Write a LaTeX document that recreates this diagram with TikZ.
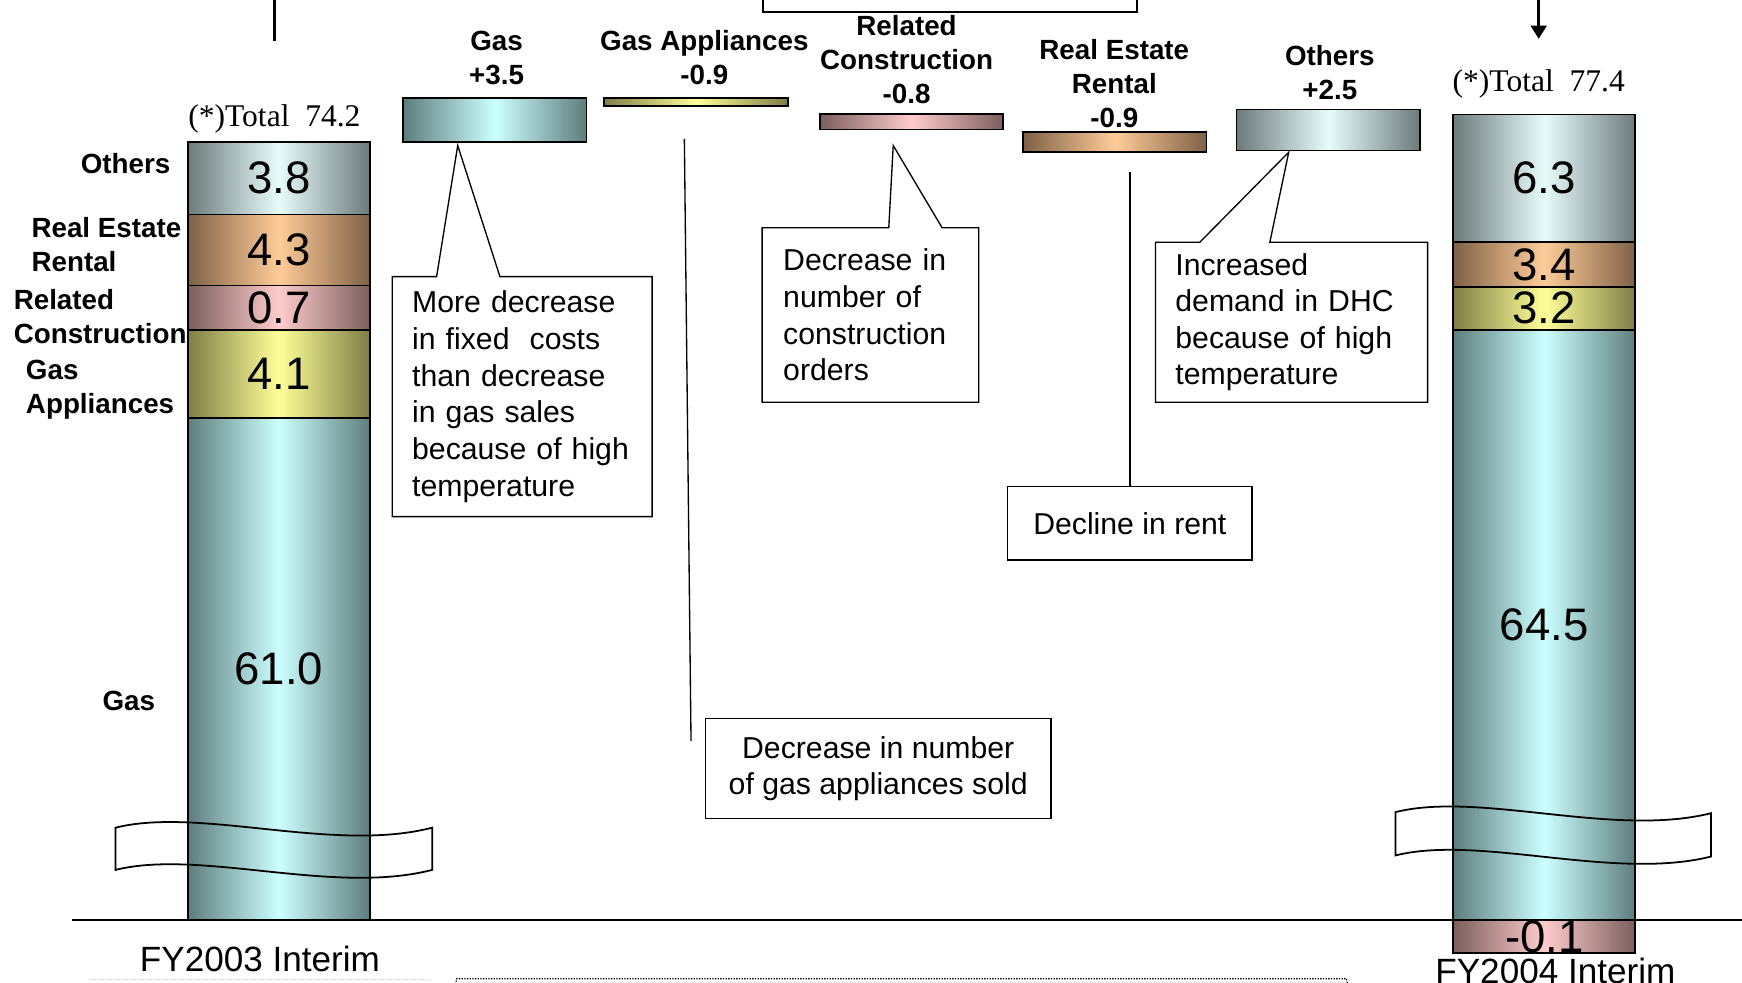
\documentclass[tikz,border=0pt]{standalone}
\usepackage{fontspec}
\setmainfont{Liberation Serif}
\setsansfont{Liberation Sans}
\usetikzlibrary{arrows.meta}

\definecolor{gasdark}{HTML}{5E7D7D}
\definecolor{gaslight}{HTML}{CCFFFF}
\definecolor{othdark}{HTML}{6C7A7A}
\definecolor{othlight}{HTML}{E8FCFC}
\definecolor{rentdark}{HTML}{7E6146}
\definecolor{rentlight}{HTML}{FFCC99}
\definecolor{condark}{HTML}{7B5E5E}
\definecolor{conlight}{HTML}{FFCCCC}
\definecolor{appdark}{HTML}{7E7E46}
\definecolor{applight}{HTML}{FFFF99}

\tikzset{
  barseg/.style={draw, line width=0.8pt, inner sep=0pt, minimum width=82pt,
    font=\sffamily\fontsize{20.5}{24}\selectfont},
  deltabar/.style={draw, line width=0.8pt, inner sep=0pt, minimum width=82.5pt},
  gasshade/.style={left color=gasdark, right color=gasdark, middle color=gaslight},
  othshade/.style={left color=othdark, right color=othdark, middle color=othlight},
  rentshade/.style={left color=rentdark, right color=rentdark, middle color=rentlight},
  conshade/.style={left color=condark, right color=condark, middle color=conlight},
  appshade/.style={left color=appdark, right color=appdark, middle color=applight},
  catlabel/.style={font=\sffamily\bfseries\fontsize{12.5}{15.3}\selectfont, inner sep=0pt},
  notebox/.style={inner sep=0pt, outer sep=0pt, font=\sffamily\fontsize{13.6}{16.5}\selectfont},
  outline/.style={line width=0.6pt},
  totallabel/.style={font=\rmfamily\fontsize{14.2}{17}\selectfont, inner sep=0pt, anchor=base},
  yearlabel/.style={font=\sffamily\fontsize{15.8}{19}\selectfont, inner sep=0pt, anchor=base},
}

\begin{document}
\begin{tikzpicture}[x=0.5pt, y=-0.5pt]
        % Page frame
        \path[use as bounding box, clip] (0,0) rectangle (1568,884);
        % Cut-off marks at the top
        \draw[line width=1.5pt] (247,0) -- (247,37);
        \draw[line width=1.5pt, -{Triangle[width=7pt,length=6pt]}] (1385,0) -- (1385,35);
        \draw[line width=0.9pt] (687,-20) rectangle (1023,11);
        % FY2003 interim bar
        \node[barseg, gasshade, minimum height=226pt] (oldgas) at (251,602) {61.0};
        \node[barseg, appshade, minimum height=39.5pt] (oldapp) at (251,336.5) {4.1};
        \node[barseg, conshade, minimum height=20pt] (oldcon) at (251,277) {0.7};
        \node[barseg, rentshade, minimum height=32pt] (oldrent) at (251,225) {4.3};
        \node[barseg, othshade, minimum height=32.5pt] (oldoth) at (251,160.5) {3.8};
        \node[totallabel] (oldtotal) at (247,114) {(*)Total\ \ 74.2};
        % Segment names
        \node[catlabel] (othname) at (113,147) {Others};
        \node[catlabel, align=left, anchor=west] (rentname) at (28,220.5) {Real Estate\\Rental};
        \node[catlabel, align=left, anchor=west] (conname) at (12,285) {Related\\Construction};
        \node[catlabel, align=left, anchor=west] (appname) at (23,350.5) {Gas\\Appliances};
        \node[catlabel] (gasname) at (116,631) {Gas};
        % FY2004 interim bar
        \node[barseg, gasshade, minimum height=265.5pt] (newgas) at (1390,562.5) {64.5};
        \node[barseg, appshade, minimum height=19.5pt] (newapp) at (1390,277.5) {3.2};
        \node[barseg, rentshade, minimum height=20pt] (newrent) at (1390,238) {3.4};
        \node[barseg, othshade, minimum height=57.5pt] (newoth) at (1390,160.5) {6.3};
        \node[barseg, conshade, minimum height=15pt] (newcon) at (1390,843) {-0.1};
        \node[totallabel] (newtotal) at (1385,82) {(*)Total\ \ 77.4};
        % Changes between the two
        \node[deltabar, gasshade, minimum height=20pt] (gasdelta) at (445.5,108) {};
        \node[deltabar, appshade, minimum height=3.75pt] (appdelta) at (626.5,92) {};
        \node[deltabar, conshade, minimum height=7pt] (condelta) at (820.5,109.5) {};
        \node[deltabar, rentshade, minimum height=9pt] (rentdelta) at (1003.5,127.5) {};
        \node[deltabar, othshade, minimum height=18.5pt] (othdelta) at (1195.5,117) {};
        \node[catlabel, align=center] (gaslbl) at (447,52) {Gas\\+3.5};
        \node[catlabel, align=center] (applbl) at (634,52) {Gas Appliances\\-0.9};
        \node[catlabel, align=center] (conlbl) at (816,53.5) {Related\\Construction\\-0.8};
        \node[catlabel, align=center] (rentlbl) at (1003,75) {Real Estate\\Rental\\-0.9};
        \node[catlabel, align=center] (othlbl) at (1197,65) {Others\\+2.5};
        % Base line
        \draw[line width=0.75pt] (65,828) -- (1568,828);
        % Break marks
        \draw[line width=0.8pt] (104,745) .. controls (180,726) and (300,768) .. (389,745) -- (389,783)
          .. controls (300,806) and (180,764) .. (104,783) -- cycle;
        \draw[line width=0.8pt] (1256,731) .. controls (1332,712) and (1452,754) .. (1540,732) -- (1540,771)
          .. controls (1452,793) and (1332,751) .. (1256,770) -- cycle;
        % Callouts
        \coordinate (gastip) at (412,131);
        \coordinate (contip) at (804,131);
        \coordinate (othtip) at (1160,137);
        \node[notebox, align=left, inner xsep=9pt, text width=99pt, minimum height=108pt] (fixedcosts) at (470,357)
          {More decrease\\in fixed\ \ costs\\than decrease\\in gas sales\\because of high\\temperature};
        \draw[outline] (fixedcosts.north west) -- ([xshift=20pt]fixedcosts.north west) -- (gastip)
          -- ([xshift=48.5pt]fixedcosts.north west) -- (fixedcosts.north east) |- (fixedcosts.south west) -- cycle;
        \node[notebox, align=left, inner xsep=9.5pt, text width=78.5pt, minimum height=78.5pt] (orders) at (783.5,283.5)
          {Decrease in\\number of\\construction\\orders};
        \draw[outline] (orders.north west) -- ([xshift=57pt]orders.north west) -- (contip)
          -- ([xshift=81pt]orders.north west) -- (orders.north east) |- (orders.south west) -- cycle;
        \node[notebox, align=left, inner xsep=9pt, text width=104.5pt, minimum height=72pt] (dhc) at (1162.5,290)
          {Increased\\demand in DHC\\because of high\\temperature};
        \draw[outline] (dhc.north west) -- ([xshift=20pt]dhc.north west) -- (othtip)
          -- ([xshift=51.5pt]dhc.north west) -- (dhc.north east) |- (dhc.south west) -- cycle;
        % Plain notes with a line
        \node[notebox, draw, outline, align=center, minimum width=155.5pt, minimum height=45pt] (appsold)
          at (790.5,692) {Decrease in number\\of gas appliances sold};
        \node[notebox, draw, outline, minimum width=110pt, minimum height=33pt] (rent) at (1017,471) {Decline in rent};
        \coordinate (appfrom) at (616,125);
        \coordinate (appto) at (622,667);
        \coordinate (rentfrom) at (1017,155);
        \draw[outline] (appfrom) -- (appto);
        \draw[outline] (rentfrom) -- (rent.north);
        % Years
        \node[yearlabel] (oldyear) at (234,874) {FY2003 Interim};
        \node[yearlabel] (newyear) at (1400,885) {FY2004 Interim};
        % Dotted edges at the foot
        \draw[gray!40, line width=0.5pt, dash pattern=on 0.6pt off 0.6pt] (80,882) -- (385,882);
        \draw[line width=0.5pt, dash pattern=on 0.6pt off 0.6pt] (410,886) -- (411,881) -- (1212,881) -- (1213,886);
\end{tikzpicture}
\end{document}
